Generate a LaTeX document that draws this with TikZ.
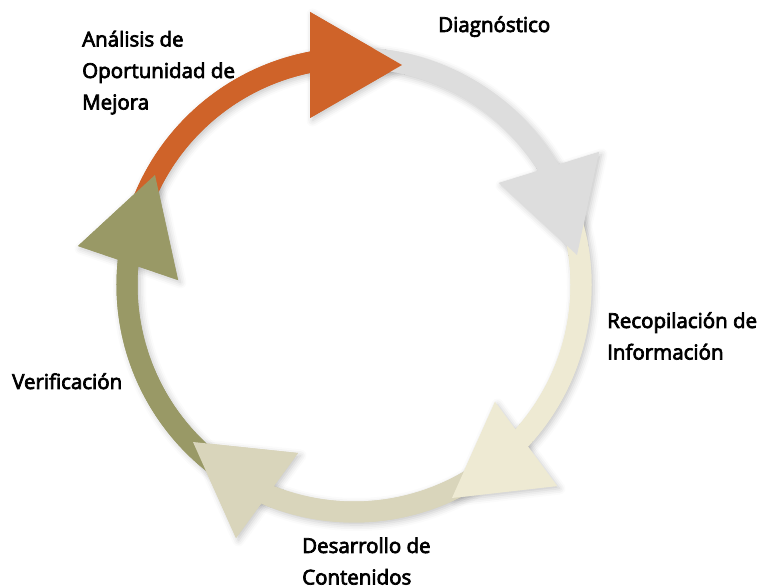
\documentclass[tikz,border=0pt]{standalone}
\usepackage{fontspec}
\newfontfamily\lblfont{Open Sans}[FakeBold=3.5]
\usetikzlibrary{calc,shadows.blur}
\definecolor{cOrange}{HTML}{CF6329}
\definecolor{cGrey}{HTML}{DDDDDD}
\definecolor{cCream}{HTML}{EEEAD3}
\definecolor{cBeige}{HTML}{D9D5BB}
\definecolor{cOlive}{HTML}{999966}
\newcommand{\ringband}[3]{%
  \fill[#1] ($(C)+(#2:237.5)$) arc[start angle=#2, end angle=#3, radius=237.5]
    -- ($(C)+(#3:216.5)$) arc[start angle=#3, end angle=#2, radius=216.5] -- cycle;}
\newcommand{\allshapes}[1]{%
  \ringband{cOrange,#1}{159}{98}
  \ringband{cGrey,#1}{87}{28}
  \ringband{cCream,#1}{17}{-46}
  \ringband{cBeige,#1}{-56}{-116}
  \ringband{cOlive,#1}{233}{171}
  \fill[cOrange,#1] (310,576) -- (402,523) -- (310,470) -- cycle;
  \fill[cGrey,#1] (499,405) -- (599,436) -- (577,333) -- cycle;
  \fill[cCream,#1] (495,186) -- (557,102) -- (452,90) -- cycle;
  \fill[cBeige,#1] (298,135) -- (236,50) -- (193,146) -- cycle;
  \fill[cOlive,#1] (78,342) -- (155,413) -- (178,308) -- cycle;}
\begin{document}
\begin{tikzpicture}[x=1pt,y=1pt,
  soft/.style={blur shadow={shadow xshift=2.5pt, shadow yshift=-2.5pt, shadow blur radius=6pt, shadow opacity=22}},
  plain/.style={},
  lbl/.style={inner sep=0pt, anchor=base west, font=\lblfont\fontsize{20.5}{31.5}\selectfont}]
\useasboundingbox (0,0) rectangle (769,588);
\coordinate (C) at (354,303);
% shadows first, then the shapes on top
\allshapes{soft}
\allshapes{plain}
% labels
\node[lbl] (analisis) at (82,541.5) {\vtop{\hbox{Análisis de}\hbox{Oportunidad de}\hbox{Mejora}}};
\node[lbl] (diag) at (438,556) {Diagnóstico};
\node[lbl] (recop) at (607,260) {\vtop{\hbox{Recopilación de}\hbox{Información}}};
\node[lbl] (verif) at (12,199) {Verificación};
\node[lbl] (desarr) at (302,35) {\vtop{\hbox{Desarrollo de}\hbox{Contenidos}}};
\end{tikzpicture}
\end{document}
